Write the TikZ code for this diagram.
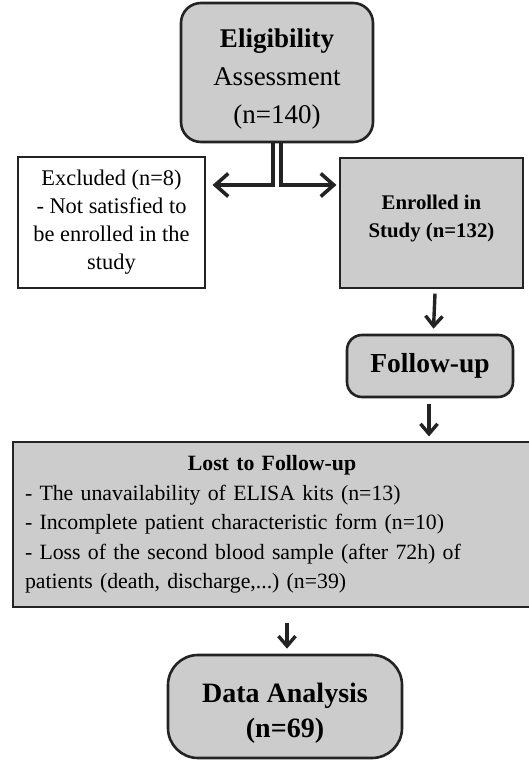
\documentclass[tikz,border=0pt]{standalone}
\usepackage{fontspec}
\setmainfont{Liberation Serif}
\usetikzlibrary{arrows.meta,positioning}
\definecolor{boxgray}{RGB}{204,204,204}
\definecolor{linecol}{RGB}{35,35,35}
\frenchspacing

\begin{document}
\begin{tikzpicture}[x=1pt,y=-1pt,
    rbox/.style={draw=linecol,line width=2.6pt,rounded corners=20pt,fill=boxgray,
      align=center,inner sep=0pt},
    sbox/.style={draw=linecol,line width=1.1pt,align=center,inner sep=0pt},
    harr/.style={-{Straight Barb[length=13pt,width=23pt]},linecol,line width=3.6pt},
    varr/.style={-{Straight Barb[length=10pt,width=17pt]},linecol,line width=3.4pt}]
    \useasboundingbox[fill=white] (0,0) rectangle (528,760);
    \node[rbox,minimum width=192pt,minimum height=139pt,
      font=\fontsize{27}{38}\selectfont](elig) at (277,72.5)
      {\rule{0pt}{31pt}\textbf{Eligibility}\\Assessment\\(n=140)};
    \node[sbox,fill=white,minimum width=187pt,minimum height=131pt,
      font=\fontsize{22.4}{28}\selectfont](excl) at (111.5,222.5)
      {Excluded (n=8)\\- Not satisfied to\\be enrolled in the\\study};
    \node[sbox,fill=boxgray,minimum width=183pt,minimum height=130pt,
      font=\fontsize{20.8}{28}\selectfont\bfseries](enrol) at (431.5,223)
      {Enrolled in\\Study (n=132)\rule[-14pt]{0pt}{14pt}};
    \node[rbox,rounded corners=15pt,minimum width=166pt,minimum height=62pt,
      font=\fontsize{27.5}{33}\selectfont\bfseries](follow) at (430,366)
      {Follow-up};
    \node[sbox,fill=boxgray,minimum width=518pt,minimum height=165pt,text width=494pt,
      align=left,inner xsep=12pt,font=\fontsize{21.8}{29.5}\selectfont](lost) at (272,524.5)
      {\makebox[\hsize]{\textbf{Lost to Follow-up}}\\
       - The unavailability of ELISA kits (n=13)\\
       - Incomplete patient characteristic form (n=10)\\
       - Loss of the second blood sample (after 72h) of\\
       patients (death, discharge,...) (n=39)};
    \node[rbox,rounded corners=30pt,minimum width=234pt,minimum height=103pt,
      font=\fontsize{28}{35}\selectfont\bfseries](data) at (285,706.5)
      {\rule{0pt}{32pt}Data Analysis\\(n=69)};
    % split below the first box
    \draw[harr]([xshift=-4pt]elig.south) |- ([yshift=37.5pt]excl.east) [shorten >=7pt];
    \draw[harr]([xshift=4pt]elig.south) |- ([yshift=38pt]enrol.west) [shorten >=3pt];
    \draw[varr]([xshift=3.5pt,yshift=-5pt]enrol.south)--([xshift=3.5pt,yshift=5pt]follow.north);
    \draw[varr]([xshift=-1pt,yshift=-6pt]follow.south)--([xshift=157pt,yshift=5pt]lost.north);
    \draw[varr]([xshift=15pt,yshift=-15pt]lost.south)--([xshift=2pt,yshift=5pt]data.north);
  \end{tikzpicture}
\end{document}
